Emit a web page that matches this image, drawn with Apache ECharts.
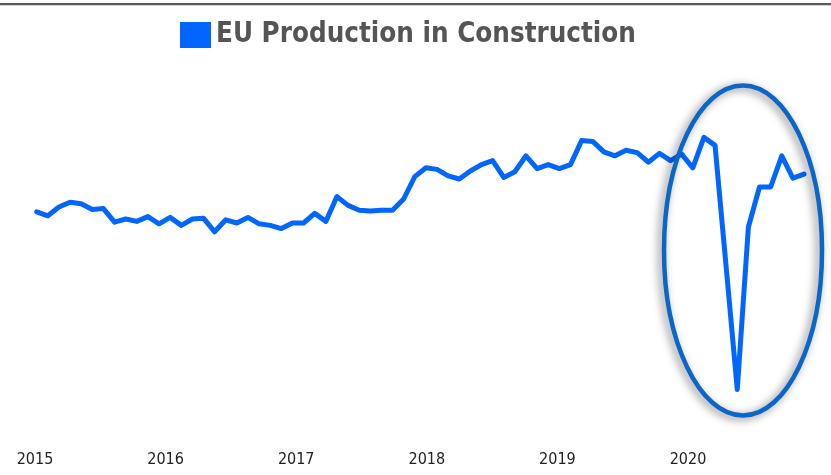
<!DOCTYPE html>
<html>
<head>
<meta charset="utf-8">
<script src="https://cdn.jsdelivr.net/npm/echarts@6/dist/echarts.min.js"></script>
<style>
html,body{margin:0;padding:0;background:#fff;}
#chart{width:831px;height:475px;}
</style>
</head>
<body>
<div id="chart"></div>
<script>
// Monthly index, Jan 2015 .. Oct 2020
const seriesName = 'EU Production in Construction';
const months = [];
for (let y = 2015; y <= 2020; y++) {
  for (let m = 1; m <= 12; m++) {
    if (y === 2020 && m > 10) break;
    months.push(y + '-' + (m < 10 ? '0' + m : m));
  }
}
const values = [
  100.4, 99.9, 101.0, 101.6, 101.4, 100.7, 100.8, 99.1, 99.5, 99.2, 99.8, 98.9,
  99.7, 98.7, 99.5, 99.6, 97.9, 99.4, 99.0, 99.7, 98.9, 98.7, 98.3, 99.0,
  99.0, 100.2, 99.2, 102.3, 101.2, 100.6, 100.5, 100.6, 100.6, 102.0, 104.8, 105.9,
  105.7, 104.9, 104.5, 105.5, 106.3, 106.8, 104.7, 105.4, 107.4, 105.8, 106.3, 105.8,
  106.3, 109.3, 109.2, 107.9, 107.4, 108.1, 107.8, 106.6, 107.7, 106.8, 107.6, 105.9,
  109.7, 108.7, 93.5, 78.2, 98.5, 103.5, 103.5, 107.4, 104.6, 105.1
];
const yearLabels = ['2015', '2016', '2017', '2018', '2019', '2020'];

const chart = echarts.init(document.getElementById('chart'), null, {renderer: 'canvas'});
const font = '"DejaVu Sans Condensed", "DejaVu Sans", sans-serif';
chart.setOption({
  animation: false,
  backgroundColor: '#ffffff',
  legend: {
    left: 175, top: 16,
    itemWidth: 31, itemHeight: 26,
    icon: 'rect',
    selectedMode: false,
    data: [seriesName],
    textStyle: {fontFamily: font, fontSize: 27.5, fontWeight: 'bold', color: '#555555'}
  },
  grid: [
    {left: 36.7, right: 27, top: 55, bottom: 20},
    {left: 35, right: 143, top: 55, bottom: 30}
  ],
  xAxis: [
    {type: 'category', gridIndex: 0, data: months, boundaryGap: false,
     axisLine: {show: false}, axisTick: {show: false}, axisLabel: {show: false}, splitLine: {show: false}},
    {type: 'category', gridIndex: 1, data: yearLabels, boundaryGap: false,
     axisLine: {show: false}, axisTick: {show: false}, splitLine: {show: false},
     axisLabel: {show: true, interval: 0, margin: 7, fontFamily: font, fontSize: 16, color: '#222222'}}
  ],
  yAxis: [
    {type: 'value', gridIndex: 0, min: 70, max: 120,
     axisLine: {show: false}, axisTick: {show: false}, axisLabel: {show: false}, splitLine: {show: false}},
    {type: 'value', gridIndex: 1, min: 0, max: 1,
     axisLine: {show: false}, axisTick: {show: false}, axisLabel: {show: false}, splitLine: {show: false}}
  ],
  series: [{
    name: seriesName,
    type: 'line',
    xAxisIndex: 0, yAxisIndex: 0,
    data: values,
    showSymbol: false,
    symbol: 'none',
    color: '#0066ff',
    lineStyle: {color: '#0066ff', width: 5, join: 'round', cap: 'round'},
    itemStyle: {color: '#0066ff'}
  }],
  graphic: [
    {type: 'rect', shape: {x: 0, y: 3, width: 831, height: 2}, style: {fill: '#5a5a5a'}, silent: true},
    {type: 'rect', shape: {x: 0, y: 5, width: 831, height: 1}, style: {fill: '#d0d0d0'}, silent: true},
    {type: 'ellipse', shape: {cx: 743, cy: 250.5, rx: 79, ry: 165},
     style: {fill: 'none', stroke: '#0a66c8', lineWidth: 4.5,
             shadowBlur: 8, shadowColor: 'rgba(0,0,0,0.5)', shadowOffsetX: -3, shadowOffsetY: 2},
     silent: true, z: 100}
  ]
});
</script>
</body>
</html>
